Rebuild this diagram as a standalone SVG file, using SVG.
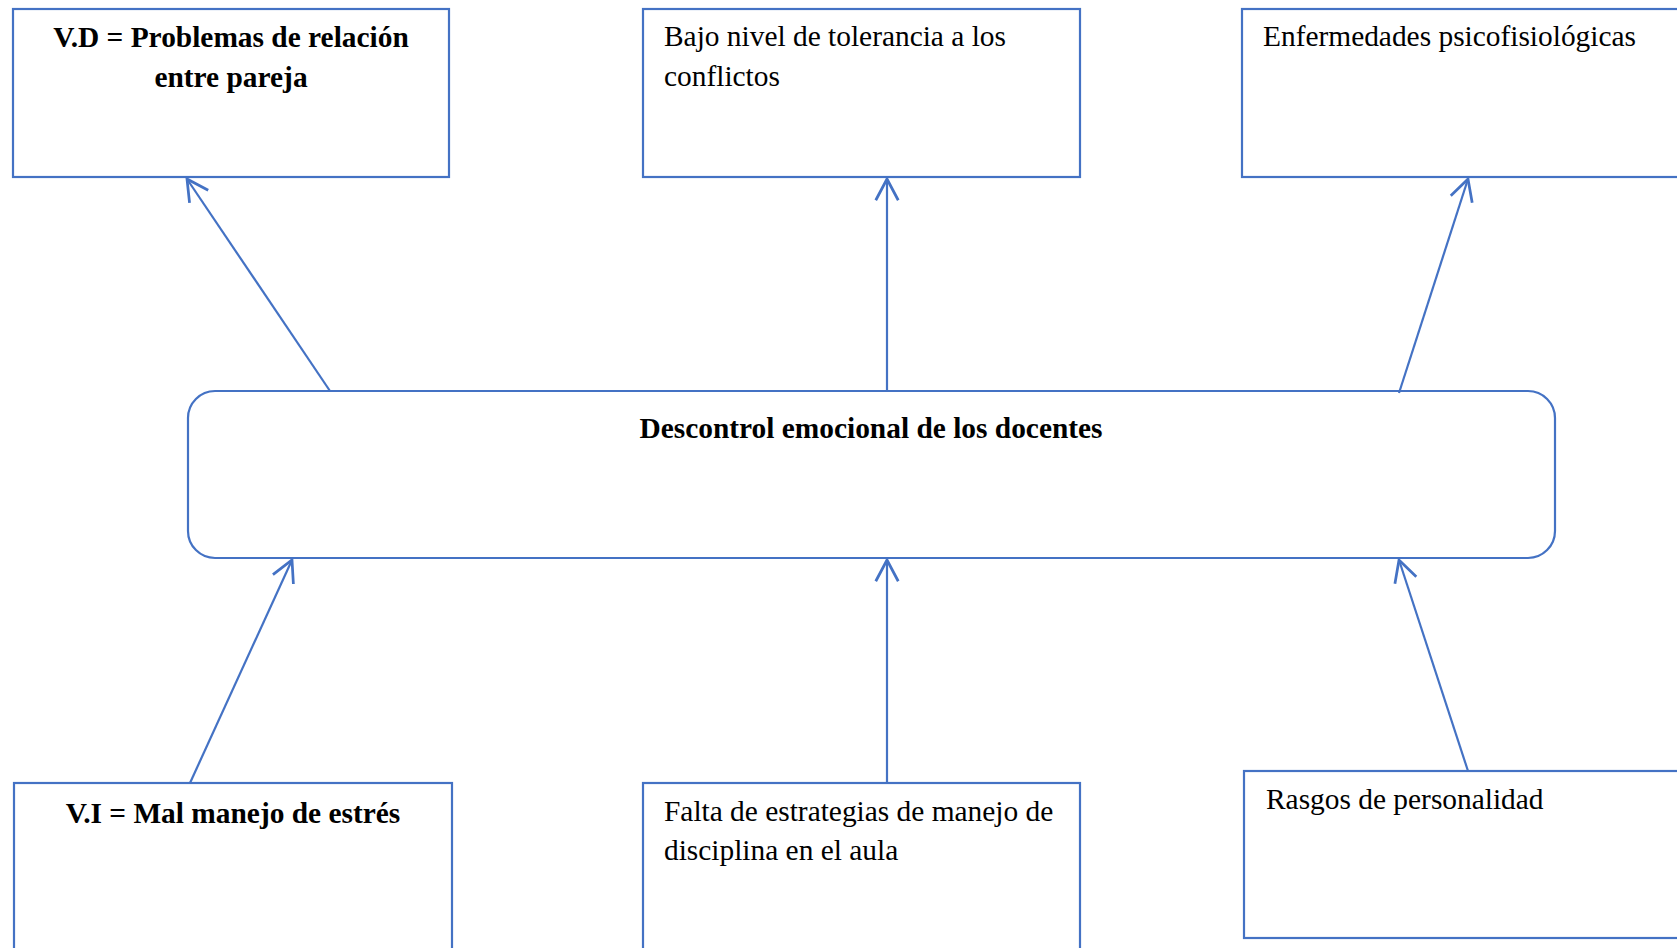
<svg xmlns="http://www.w3.org/2000/svg" width="1677" height="948" viewBox="0 0 1677 948">
<style>
.box{fill:#fff;stroke:#4472C4;stroke-width:2.2}
.t{font-family:"Liberation Serif","Times New Roman",serif;font-size:29.4px;fill:#000}
.b{font-weight:bold;text-anchor:middle}
.c{stroke:#4472C4;stroke-width:2.2;fill:none}
</style>
<defs>
<marker id="arr" markerUnits="userSpaceOnUse" markerWidth="30" markerHeight="30" viewBox="-20 -12 24 24" refX="0" refY="0" orient="auto">
<path d="M-17,-9 L0,0 L-17,9" fill="none" stroke="#4472C4" stroke-width="2.2"/>
</marker>
</defs>
<rect width="1677" height="948" fill="#fff"/>
<g id="n-vd">
<rect class="box" x="13" y="9" width="436" height="168"/>
<text class="t b" x="231" y="47">V.D = Problemas de relación</text>
<text class="t b" x="231" y="87">entre pareja</text>
</g>
<g id="n-tol">
<rect class="box" x="643" y="9" width="437" height="168"/>
<text class="t" x="664" y="46">Bajo nivel de tolerancia a los</text>
<text class="t" x="664" y="86">conflictos</text>
</g>
<g id="n-enf">
<rect class="box" x="1242" y="9" width="460" height="168"/>
<text class="t" x="1263" y="46">Enfermedades psicofisiológicas</text>
</g>
<g id="n-center">
<rect class="box" x="188" y="391" width="1367" height="167" rx="27" ry="27"/>
<text class="t b" x="871" y="438">Descontrol emocional de los docentes</text>
</g>
<g id="n-vi">
<rect class="box" x="14" y="783" width="438" height="180"/>
<text class="t b" x="233" y="823">V.I = Mal manejo de estrés</text>
</g>
<g id="n-falta">
<rect class="box" x="643" y="783" width="437" height="180"/>
<text class="t" x="664" y="821">Falta de estrategias de manejo de</text>
<text class="t" x="664" y="860">disciplina en el aula</text>
</g>
<g id="n-rasgos">
<rect class="box" x="1244" y="771" width="460" height="167"/>
<text class="t" x="1266" y="809">Rasgos de personalidad</text>
</g>
<g id="connectors">
<line class="c" x1="330" y1="391" x2="187" y2="179" marker-end="url(#arr)"/>
<line class="c" x1="887" y1="391" x2="887" y2="179" marker-end="url(#arr)"/>
<line class="c" x1="1399" y1="393" x2="1468" y2="179" marker-end="url(#arr)"/>
<line class="c" x1="190" y1="783" x2="292" y2="560" marker-end="url(#arr)"/>
<line class="c" x1="887" y1="783" x2="887" y2="560" marker-end="url(#arr)"/>
<line class="c" x1="1468" y1="771" x2="1399" y2="560" marker-end="url(#arr)"/>
</g>
</svg>
